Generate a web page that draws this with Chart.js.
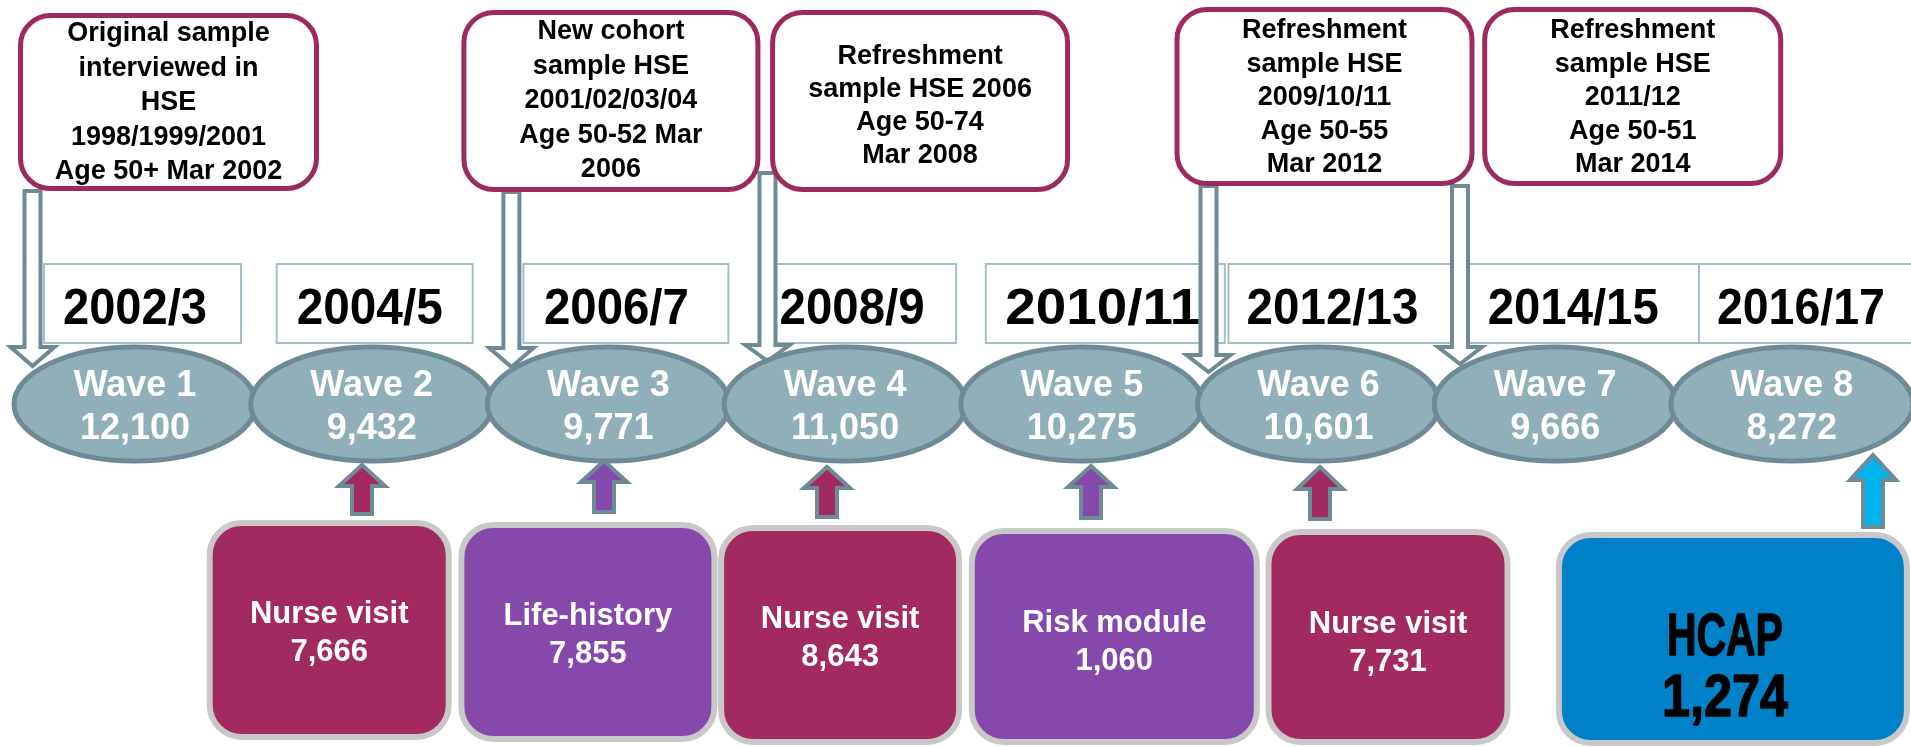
<!DOCTYPE html>
<html><head><meta charset="utf-8">
<script src="https://cdn.jsdelivr.net/npm/chart.js@4.4.1/dist/chart.umd.min.js"></script>
<style>html,body{margin:0;padding:0;background:#fff;overflow:hidden}#wrap{width:1911px;height:747px;position:relative}</style>
</head><body><div id="wrap"><canvas id="c" width="1911" height="747"></canvas></div>
<script>
// ================= DATA =================
const waveNumbers = [1, 2, 3, 4, 5, 6, 7, 8];
const waveLabels = ['Wave 1', 'Wave 2', 'Wave 3', 'Wave 4', 'Wave 5', 'Wave 6', 'Wave 7', 'Wave 8'];
const waveSizes = [12100, 9432, 9771, 11050, 10275, 10601, 9666, 8272];
const fieldworkYears = ['2002/3', '2004/5', '2006/7', '2008/9', '2010/11', '2012/13', '2014/15', '2016/17'];

const sampleBoxWaves = [1, 3, 4, 6, 7];
const sampleBoxLines = [
  ['Original sample', 'interviewed in', 'HSE', '1998/1999/2001', 'Age 50+ Mar 2002'],
  ['New cohort', 'sample HSE', '2001/02/03/04', 'Age 50-52 Mar', '2006'],
  ['Refreshment', 'sample HSE 2006', 'Age 50-74', 'Mar 2008'],
  ['Refreshment', 'sample HSE', '2009/10/11', 'Age 50-55', 'Mar 2012'],
  ['Refreshment', 'sample HSE', '2011/12', 'Age 50-51', 'Mar 2014']
];
const entryArrowWaves = [1, 3, 4, 6, 7];

const moduleWaves = [2, 3, 4, 5, 6, 8];
const moduleNames = ['Nurse visit', 'Life-history', 'Nurse visit', 'Risk module', 'Nurse visit', 'HCAP'];
const moduleSizes = [7666, 7855, 8643, 1060, 7731, 1274];
const moduleKinds = ['nurse', 'life', 'nurse', 'risk', 'nurse', 'hcap'];

// ================= LAYOUT / STYLE (not data) =================
const W = 1911, H = 747;
const FIRST_CENTER = 135, SPACING = 236.7;   // pixel layout of the wave axis
const WAVE_ROW = 404, MODULE_ROW = 632;
const FONT = '"Liberation Sans", Arial, sans-serif';
const COL = {
  ellipseFill: '#8fafb9', ellipseStroke: '#6e8a94', arrowStroke: '#6e8a94',
  topBorder: '#9d2a5e', yearBorder: '#a3c0c8', moduleBorder: '#c8c8c8',
  nurse: '#a32a61', life: '#8548ab', risk: '#8548ab', hcap: '#0081c8', hcapArrow: '#00b5ef'
};
// offsets in px relative to the anchored wave centre
const sampleBoxLayout = [
  {x0: -117, x1: 184, y0: 13, y1: 191, first: 41, step: 34.5},
  {x0: -147, x1: 152, y0: 10, y1: 192, first: 39, step: 34.5},
  {x0: -75, x1: 225, y0: 10, y1: 192, first: 64, step: 33},
  {x0: -144, x1: 156, y0: 7, y1: 186, first: 38, step: 33.5},
  {x0: -73, x1: 228, y0: 7, y1: 186, first: 38, step: 33.5}
];
const entryArrowLayout = [
  {dx: -102.5, top: 191, head: 347, tip: 366},
  {dx: -97, top: 192, head: 348, tip: 367},
  {dx: -77.6, top: 173, head: 345, tip: 361},
  {dx: -110, top: 186, head: 355, tip: 372},
  {dx: -95.2, top: 186, head: 347, tip: 364}
];
const yearBoxLayout = [
  {x0: -91, x1: 106, tdx: 0, tw: 144},
  {x0: -95, x1: 101, tdx: -2, tw: 146},
  {x0: -85, x1: 120, tdx: 8, tw: 145},
  {x0: -84, x1: 111, tdx: 7, tw: 145},
  {x0: -96, x1: 143, tdx: 21, tw: 195},
  {x0: -90, x1: 140, tdx: 14, tw: 172},
  {x0: -87, x1: 144, tdx: 18, tw: 171},
  {x0: -93, x1: 125, tdx: 9, tw: 168}
];
const YEAR_Y0 = 264, YEAR_Y1 = 343, YEAR_BASE = 324;
const moduleLayout = [
  {x0: -165, x1: 80, y0: 520, y1: 740, adx: -9.7, tip: 465, head: 486, bottom: 514, b1: 623, tdx: 0},
  {x0: -150, x1: 109, y0: 522, y1: 742, adx: -4.4, tip: 461, head: 482, bottom: 512, b1: 625, tdx: 0},
  {x0: -127, x1: 117, y0: 525, y1: 745, adx: -18.1, tip: 467, head: 488, bottom: 517, b1: 628, tdx: 0},
  {x0: -113, x1: 178, y0: 528, y1: 745, adx: 9.2, tip: 466, head: 487, bottom: 518, b1: 632, tdx: 0},
  {x0: -53, x1: 192, y0: 529, y1: 745, adx: 1.5, tip: 467, head: 489, bottom: 519, b1: 633, tdx: 0},
  {x0: -236, x1: 118, y0: 532, y1: 746, adx: 81.1, tip: 455, head: 480, bottom: 527, b1: 655, tdx: -8}
];

function fmt(n) { return n.toLocaleString('en-US'); }

function textW(ctx, str, x, y, font, color, targetW, strokeW) {
  ctx.save();
  ctx.font = font;
  ctx.fillStyle = color;
  ctx.textAlign = 'center';
  ctx.textBaseline = 'alphabetic';
  ctx.translate(x, y);
  if (targetW) {
    const w = ctx.measureText(str).width;
    ctx.scale(targetW / w, 1);
  }
  ctx.fillText(str, 0, 0);
  if (strokeW) {
    ctx.lineWidth = strokeW;
    ctx.strokeStyle = color;
    ctx.lineJoin = 'round';
    ctx.strokeText(str, 0, 0);
  }
  ctx.restore();
}

function downArrow(ctx, cx, top, head, tip) {
  const sw = 8, hw = 22;
  ctx.beginPath();
  ctx.moveTo(cx - sw, top);
  ctx.lineTo(cx - sw, head);
  ctx.lineTo(cx - hw, head);
  ctx.lineTo(cx, tip);
  ctx.lineTo(cx + hw, head);
  ctx.lineTo(cx + sw, head);
  ctx.lineTo(cx + sw, top);
  ctx.closePath();
  ctx.fillStyle = '#ffffff';
  ctx.fill();
  ctx.lineWidth = 4;
  ctx.strokeStyle = COL.arrowStroke;
  ctx.stroke();
}

function upArrow(ctx, cx, tip, head, bottom, fill) {
  const sw = 10, hw = 23;
  ctx.beginPath();
  ctx.moveTo(cx - sw, bottom);
  ctx.lineTo(cx - sw, head);
  ctx.lineTo(cx - hw, head);
  ctx.lineTo(cx, tip);
  ctx.lineTo(cx + hw, head);
  ctx.lineTo(cx + sw, head);
  ctx.lineTo(cx + sw, bottom);
  ctx.closePath();
  ctx.fillStyle = fill;
  ctx.fill();
  ctx.lineWidth = 4;
  ctx.strokeStyle = COL.arrowStroke;
  ctx.stroke();
}

const diagramPlugin = {
  id: 'diagram',
  afterDraw(chart) {
    const ctx = chart.ctx;
    const ys = chart.scales.y;
    const wavePts = chart.getDatasetMeta(0).data;
    const modPts = chart.getDatasetMeta(1).data;
    const waveX = w => wavePts[waveNumbers.indexOf(w)].x;
    const Y = v => ys.getPixelForValue(v);

    // year boxes
    wavePts.forEach((p, i) => {
      const L = yearBoxLayout[i];
      ctx.save();
      ctx.fillStyle = '#fff';
      ctx.strokeStyle = COL.yearBorder;
      ctx.lineWidth = 2;
      ctx.fillRect(p.x + L.x0, Y(YEAR_Y0), L.x1 - L.x0, Y(YEAR_Y1) - Y(YEAR_Y0));
      ctx.strokeRect(p.x + L.x0, Y(YEAR_Y0), L.x1 - L.x0, Y(YEAR_Y1) - Y(YEAR_Y0));
      ctx.restore();
      textW(ctx, fieldworkYears[i], p.x + L.tdx, Y(YEAR_BASE), 'bold 50px ' + FONT, '#000', L.tw);
    });

    // entry arrows from sample boxes
    entryArrowWaves.forEach((w, i) => {
      const L = entryArrowLayout[i];
      downArrow(ctx, waveX(w) + L.dx, Y(L.top), Y(L.head), Y(L.tip));
    });

    // sample boxes (top)
    sampleBoxWaves.forEach((w, i) => {
      const L = sampleBoxLayout[i];
      const cx = waveX(w);
      ctx.save();
      ctx.beginPath();
      ctx.roundRect(cx + L.x0 + 2.5, Y(L.y0) + 2.5, L.x1 - L.x0 - 5, Y(L.y1) - Y(L.y0) - 5, 30);
      ctx.fillStyle = '#fff';
      ctx.fill();
      ctx.lineWidth = 5;
      ctx.strokeStyle = COL.topBorder;
      ctx.stroke();
      ctx.restore();
      const mid = cx + (L.x0 + L.x1) / 2;
      sampleBoxLines[i].forEach((line, k) => {
        textW(ctx, line, mid, Y(L.first + k * L.step), 'bold 27px ' + FONT, '#000');
      });
    });

    // module arrows
    modPts.forEach((p, i) => {
      const L = moduleLayout[i];
      const fill = moduleKinds[i] === 'hcap' ? COL.hcapArrow : COL[moduleKinds[i]];
      upArrow(ctx, p.x + L.adx, Y(L.tip), Y(L.head), Y(L.bottom), fill);
    });

    // wave ellipses
    wavePts.forEach((p, i) => {
      ctx.save();
      ctx.beginPath();
      ctx.ellipse(p.x, p.y, 121, 57, 0, 0, Math.PI * 2);
      ctx.fillStyle = COL.ellipseFill;
      ctx.fill();
      ctx.lineWidth = 5;
      ctx.strokeStyle = COL.ellipseStroke;
      ctx.stroke();
      ctx.restore();
      textW(ctx, waveLabels[i], p.x, p.y - 8, 'bold 36px ' + FONT, '#fff');
      textW(ctx, fmt(waveSizes[i]), p.x, p.y + 35, 'bold 36px ' + FONT, '#fff');
    });

    // module boxes
    modPts.forEach((p, i) => {
      const L = moduleLayout[i];
      const kind = moduleKinds[i];
      ctx.save();
      ctx.beginPath();
      ctx.roundRect(p.x + L.x0 + 3, Y(L.y0) + 3, L.x1 - L.x0 - 6, Y(L.y1) - Y(L.y0) - 6, 32);
      ctx.fillStyle = COL[kind];
      ctx.fill();
      ctx.lineWidth = 6;
      ctx.strokeStyle = COL.moduleBorder;
      ctx.stroke();
      ctx.restore();
      const mid = p.x + (L.x0 + L.x1) / 2 + L.tdx;
      if (kind === 'hcap') {
        textW(ctx, moduleNames[i], mid, Y(L.b1), 'bold 60px ' + FONT, '#000', 116, 1.5);
        textW(ctx, fmt(moduleSizes[i]), mid, Y(L.b1 + 61), 'bold 60px ' + FONT, '#000', 126, 1.5);
      } else {
        textW(ctx, moduleNames[i], mid, Y(L.b1), 'bold 31px ' + FONT, '#fff');
        textW(ctx, fmt(moduleSizes[i]), mid, Y(L.b1 + 38), 'bold 31px ' + FONT, '#fff');
      }
    });
  }
};

new Chart(document.getElementById('c'), {
  type: 'scatter',
  data: {
    datasets: [
      { label: 'Waves', data: waveNumbers.map(w => ({x: w, y: WAVE_ROW})), pointRadius: 0 },
      { label: 'Modules', data: moduleWaves.map(w => ({x: w, y: MODULE_ROW})), pointRadius: 0 }
    ]
  },
  options: {
    responsive: false,
    animation: false,
    devicePixelRatio: 1,
    layout: { padding: 0 },
    plugins: { legend: { display: false }, tooltip: { enabled: false } },
    scales: {
      x: { type: 'linear', display: false, min: 1 - FIRST_CENTER / SPACING, max: 1 + (W - FIRST_CENTER) / SPACING },
      y: { type: 'linear', display: false, min: 0, max: H, reverse: true }
    }
  },
  plugins: [diagramPlugin]
});
</script>
</body></html>
